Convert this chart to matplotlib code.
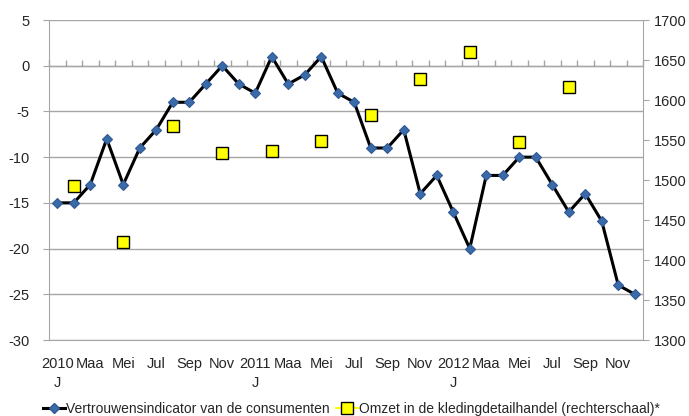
import numpy as np
import matplotlib
matplotlib.use("Agg")
import matplotlib.pyplot as plt

plt.rcParams['font.family'] = ['Liberation Sans', 'DejaVu Sans']
plt.rcParams['axes.unicode_minus'] = False

# monthly consumer confidence, Jan 2010 - Dec 2012
confidence = [-15, -15, -13, -8, -13, -9, -7, -4, -4, -2, 0, -2,
              -3, 1, -2, -1, 1, -3, -4, -9, -9, -7, -14, -12,
              -16, -20, -12, -12, -10, -10, -13, -16, -14, -17, -24, -25]

# quarterly clothing retail turnover (right axis), plotted at Feb/May/Aug/Nov
turnover_month = [1, 4, 7, 10, 13, 16, 19, 22, 25, 28, 31]
turnover = [1492, 1422, 1567, 1534, 1536, 1549, 1581, 1626, 1660, 1548, 1616]

month_labels = ['J', 'Maa', 'Mei', 'Jul', 'Sep', 'Nov']
years = ['2010', '2011', '2012']

label_conf = 'Vertrouwensindicator van de consumenten'
label_turn = 'Omzet in de kledingdetailhandel (rechterschaal)*'

grid_col = '#a6a6a6'
txt_col = '#262626'
fs = 10.5

fig = plt.figure(figsize=(6.89, 4.16), dpi=100)
ax = fig.add_axes([49 / 689, 1 - 340 / 416, 594 / 689, 320 / 416])
ax2 = ax.twinx()

x = np.arange(len(confidence))
ax.plot(x, confidence, color='black', lw=2.2, marker='D', ms=5.5,
        mfc='#3a6aa8', mec='#2f5a94', mew=0.8, zorder=3)
ax2.plot(turnover_month, turnover, ls='none', marker='s', ms=8,
         mfc='#ffff00', mec='black', mew=1.0, zorder=3)

ax.set_xlim(-0.5, len(confidence) - 0.5)
ax.set_ylim(-30, 5)
ax.set_yticks(np.arange(-30, 6, 5))
ax2.set_ylim(1300, 1700)
ax2.set_yticks(np.arange(1300, 1701, 50))

# x labels every other month
pos = np.arange(0, len(confidence), 2)
labels = []
for p in pos:
    m = month_labels[(p % 12) // 2]
    if p % 12 == 0:
        labels.append(years[p // 12] + '\n' + m)
    else:
        labels.append(m)
ax.set_xticks(pos)
ax.set_xticklabels(labels, fontsize=fs, color=txt_col, linespacing=1.5,
                   va='top')
ax.tick_params(axis='x', length=0, pad=12)

# category tick marks on the zero line
sec = ax.secondary_xaxis(30 / 35)
sec.set_xticks(np.arange(-0.5, len(confidence), 1))
sec.set_xticklabels([])
sec.tick_params(length=4, color=grid_col, width=1)
sec.spines['bottom'].set_color(grid_col)

ax.grid(axis='y', color=grid_col, lw=1)
ax.set_axisbelow(True)
for s in ['top', 'right']:
    ax.spines[s].set_visible(False)
for s in ['top', 'left', 'bottom']:
    ax2.spines[s].set_visible(False)
ax.spines['left'].set_color(grid_col)
ax.spines['bottom'].set_color(grid_col)
ax2.spines['right'].set_color(grid_col)

ax.tick_params(axis='y', length=4, color=grid_col, labelsize=fs,
               labelcolor=txt_col, pad=10)
ax2.tick_params(axis='y', length=4, color=grid_col, labelsize=fs,
                labelcolor=txt_col, pad=4)

h1, = ax.plot([], [], color='black', lw=2.2, marker='D', ms=5.5,
              mfc='#3a6aa8', mec='#2f5a94')
h2, = ax.plot([], [], color='#ffff00', lw=1.5, marker='s', ms=8,
              mfc='#ffff00', mec='black')
fig.legend([h1, h2], [label_conf, label_turn], loc='lower center',
           bbox_to_anchor=(0.51, -0.03), ncol=2, frameon=False,
           fontsize=10, handlelength=1.6, handletextpad=0.1,
           columnspacing=0.4, labelcolor=txt_col)

fig.savefig('out.png', dpi=100)
